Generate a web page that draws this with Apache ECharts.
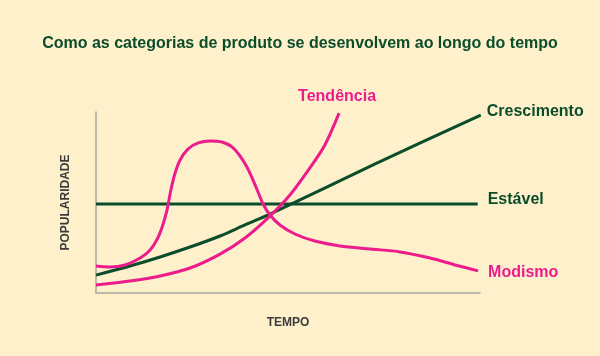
<!DOCTYPE html>
<html>
<head>
<meta charset="utf-8">
<script src="https://cdn.jsdelivr.net/npm/echarts@6/dist/echarts.min.js"></script>
<style>
html,body{margin:0;padding:0;background:#fdf0cb;}
#chart{width:600px;height:356px;}
</style>
</head>
<body>
<div id="chart"></div>
<script>
const titleText = 'Como as categorias de produto se desenvolvem ao longo do tempo';
const xName = 'TEMPO';
const yName = 'POPULARIDADE';

const crescimento = [[0,9.9],[8.85,14.9],[16.7,19.9],[24.5,25.4],[32.3,31.5],[38.8,37.6],[45.3,43.6],[72.7,71.3],[100.2,98.3]];
const estavel = [[0,49.2],[99.4,49.2]];
const modismo = [[0,14.9],[3.6,14.4],[7.6,15.5],[11.5,19.3],[14.1,23.8],[16.1,30.4],[17.4,37.6],[18.5,45.9],[19.5,56.9],[20.6,66.3],[21.9,73.5],[24.0,79.6],[26.6,82.9],[29.7,84.0],[32.8,83.4],[35.4,80.7],[37.5,75.7],[39.3,69.6],[40.9,62.4],[42.2,55.8],[43.5,49.2],[45.3,43.1],[47.9,37.6],[51.8,32.6],[57.0,28.7],[63.5,26.0],[71.4,24.3],[79.2,22.7],[87.0,19.3],[93.5,15.5],[99.5,12.2]];
const tendencia = [[0,4.4],[8.85,6.6],[16.7,9.4],[24.5,13.8],[32.3,21.5],[38.8,30.4],[45.3,42.5],[50.5,54.1],[55.7,69.1],[59.6,81.8],[63.3,99.4]];

const GREEN = '#0b4d2b';
const PINK = '#ec1c8d';
const FONT = 'Liberation Sans, Arial, sans-serif';
const labelFont = {fontFamily:FONT, fontWeight:'bold', fontSize:16};

const chart = echarts.init(document.getElementById('chart'), null, {renderer:'canvas'});
function mk(name, data, color, endLabel, smooth){
  return {
    name, type:'line', data, smooth: smooth, symbol:'none',
    lineStyle:{color, width:3}, itemStyle:{color},
    endLabel: Object.assign({show:true, formatter:name, color}, labelFont, endLabel),
    silent:true, animation:false
  };
}
chart.setOption({
  backgroundColor:'#fdf0cb',
  animation:false,
  title:{text:titleText, left:'center', top:31, textStyle:{color:GREEN, fontSize:16, fontWeight:'bold', fontFamily:FONT}},
  grid:{left:96, right:120, top:112, bottom:63},
  xAxis:{type:'value', min:0, max:100, name:xName, nameLocation:'middle', nameGap:24,
    nameTextStyle:{color:'#3c3c3c', fontWeight:'bold', fontSize:12, fontFamily:FONT},
    axisLine:{show:true, lineStyle:{color:'#a8a8a0', width:1.5}}, axisTick:{show:false}, axisLabel:{show:false}, splitLine:{show:false}},
  yAxis:{type:'value', min:0, max:100, name:yName, nameLocation:'middle', nameGap:24,
    nameTextStyle:{color:'#3c3c3c', fontWeight:'bold', fontSize:12, fontFamily:FONT},
    axisLine:{show:true, lineStyle:{color:'#a8a8a0', width:1.5}}, axisTick:{show:false}, axisLabel:{show:false}, splitLine:{show:false}},
  series:[
    mk('Estável', estavel, GREEN, {distance:10, offset:[0,-4]}, false),
    mk('Crescimento', crescimento, GREEN, {distance:6, offset:[0,-3]}, 0.3),
    mk('Modismo', modismo, PINK, {distance:10, offset:[0,2]}, 0.3),
    mk('Tendência', tendencia, PINK, {distance:0, align:'center', offset:[-2,-16]}, 0.3)
  ]
});
</script>
</body>
</html>
